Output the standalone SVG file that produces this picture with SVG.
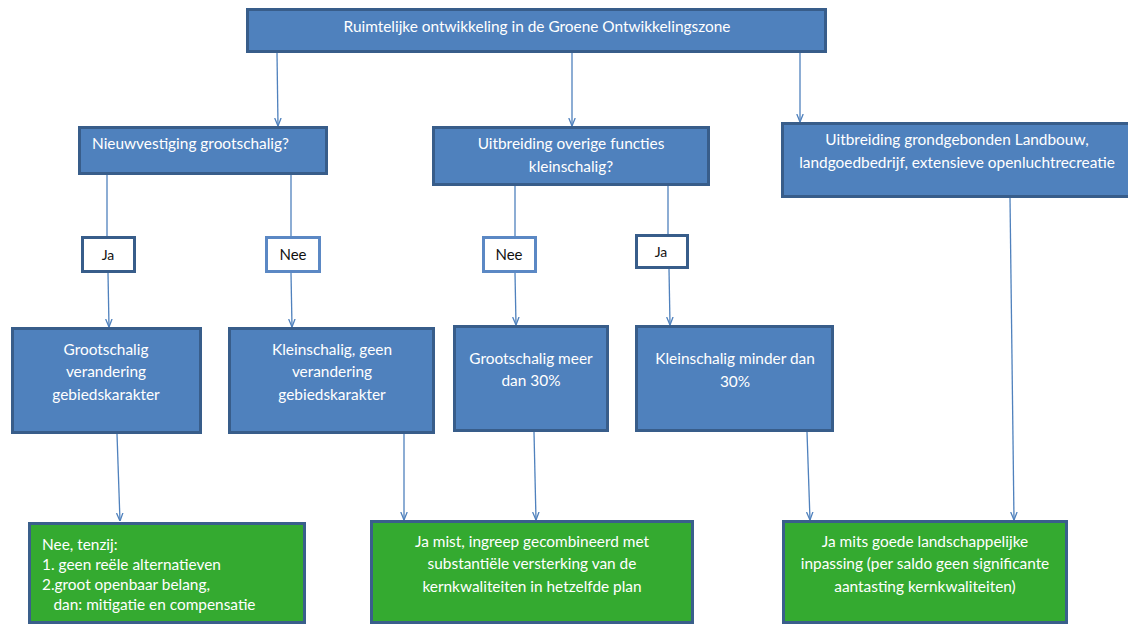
<svg xmlns="http://www.w3.org/2000/svg" width="1128" height="625" viewBox="0 0 1128 625">
<defs>
<marker id="arr" viewBox="0 0 8 8" refX="8" refY="4" markerWidth="8" markerHeight="8" markerUnits="userSpaceOnUse" orient="auto">
<path d="M0,0.8 L8,4 L0,7.2" fill="none" stroke="#4F81BD" stroke-width="1.3"/>
</marker>
</defs>
<style>
.blue{fill:#4F81BD;stroke:#385D8A;stroke-width:3}
.green{fill:#34AA30;stroke:#3A5F8B;stroke-width:3}
.lbl{fill:#FFFFFF;stroke-width:3}
.dk{stroke:#385D8A}
.lt{stroke:#5B88C4}
text{font-family:Lato,"Liberation Sans",sans-serif;font-size:15.4px;fill:#FFFFFF}
.c{text-anchor:middle}
.bk{fill:#111111;font-size:15px}
.sm{font-size:14px}
.con line{stroke:#4F81BD;stroke-width:1.3}
</style>
<rect width="1128" height="625" fill="#FFFFFF"/>
<g class="con">
<line x1="277" y1="53" x2="278" y2="126" marker-end="url(#arr)"/>
<line x1="572" y1="53" x2="572" y2="126" marker-end="url(#arr)"/>
<line x1="800" y1="53" x2="800" y2="122" marker-end="url(#arr)"/>
<line x1="107" y1="175" x2="107" y2="236"/>
<line x1="108" y1="273" x2="109" y2="327" marker-end="url(#arr)"/>
<line x1="291" y1="175" x2="291" y2="236"/>
<line x1="291" y1="273" x2="292" y2="327" marker-end="url(#arr)"/>
<line x1="515" y1="186" x2="515" y2="236"/>
<line x1="515" y1="273" x2="516" y2="325" marker-end="url(#arr)"/>
<line x1="668" y1="186" x2="668" y2="234"/>
<line x1="669" y1="269" x2="670" y2="325" marker-end="url(#arr)"/>
<line x1="1010" y1="198" x2="1014" y2="520" marker-end="url(#arr)"/>
<line x1="117" y1="434" x2="120" y2="521" marker-end="url(#arr)"/>
<line x1="404" y1="434" x2="404" y2="520" marker-end="url(#arr)"/>
<line x1="534" y1="432" x2="536" y2="520" marker-end="url(#arr)"/>
<line x1="807" y1="432" x2="810" y2="520" marker-end="url(#arr)"/>
</g>
<g id="top">
<rect class="blue" x="247.5" y="9.5" width="578" height="42"/>
<text class="c" x="537" y="32">Ruimtelijke ontwikkeling in de Groene Ontwikkelingszone</text>
</g>
<g id="nieuwvestiging">
<rect class="blue" x="79.5" y="127.5" width="247" height="46"/>
<text x="92" y="149">Nieuwvestiging grootschalig?</text>
</g>
<g id="uitbreiding-overig">
<rect class="blue" x="433.5" y="127.5" width="275" height="57"/>
<text class="c" x="571" y="149">Uitbreiding overige functies</text>
<text class="c" x="571" y="172">kleinschalig?</text>
</g>
<g id="uitbreiding-landbouw">
<rect class="blue" x="782.5" y="123.5" width="360" height="73"/>
<text class="c" x="957" y="145">Uitbreiding grondgebonden Landbouw,</text>
<text class="c" x="957" y="168">landgoedbedrijf, extensieve openluchtrecreatie</text>
</g>
<g id="ja1">
<rect class="lbl dk" x="82.5" y="237.5" width="52" height="34"/>
<text class="c bk sm" x="108" y="260">Ja</text>
</g>
<g id="nee1">
<rect class="lbl lt" x="266.5" y="237.5" width="53" height="34"/>
<text class="c bk" x="293" y="260">Nee</text>
</g>
<g id="nee2">
<rect class="lbl lt" x="483.5" y="237.5" width="52" height="34"/>
<text class="c bk" x="509" y="260">Nee</text>
</g>
<g id="ja2">
<rect class="lbl dk" x="636.5" y="235.5" width="51" height="32"/>
<text class="c bk sm" x="661" y="257">Ja</text>
</g>
<g id="grootschalig-verandering">
<rect class="blue" x="12.5" y="328.5" width="188" height="104"/>
<text class="c" x="106" y="355">Grootschalig</text>
<text class="c" x="106" y="377">verandering</text>
<text class="c" x="106" y="400">gebiedskarakter</text>
</g>
<g id="kleinschalig-geen">
<rect class="blue" x="229.5" y="328.5" width="204" height="104"/>
<text class="c" x="332" y="355">Kleinschalig, geen</text>
<text class="c" x="332" y="377">verandering</text>
<text class="c" x="332" y="400">gebiedskarakter</text>
</g>
<g id="grootschalig-meer">
<rect class="blue" x="454.5" y="326.5" width="153" height="104"/>
<text class="c" x="531" y="364">Grootschalig meer</text>
<text class="c" x="531" y="386">dan 30%</text>
</g>
<g id="kleinschalig-minder">
<rect class="blue" x="636.5" y="326.5" width="196" height="104"/>
<text class="c" x="735" y="364">Kleinschalig minder dan</text>
<text class="c" x="735" y="387">30%</text>
</g>
<g id="nee-tenzij">
<rect class="green" x="29.5" y="523.5" width="275" height="99"/>
<text x="42" y="550">Nee, tenzij:</text>
<text x="42" y="570">1. geen reële alternatieven</text>
<text x="42" y="590">2.groot openbaar belang,</text>
<text x="53.5" y="610">dan: mitigatie en compensatie</text>
</g>
<g id="ja-mist">
<rect class="green" x="371.5" y="521.5" width="321" height="101"/>
<text class="c" x="532" y="547">Ja mist, ingreep gecombineerd met</text>
<text class="c" x="532" y="569">substantiële versterking van de</text>
<text class="c" x="532" y="592">kernkwaliteiten in hetzelfde plan</text>
</g>
<g id="ja-mits">
<rect class="green" x="783.5" y="521.5" width="283" height="101"/>
<text class="c" x="925" y="547">Ja mits goede landschappelijke</text>
<text class="c" x="925" y="569">inpassing (per saldo geen significante</text>
<text class="c" x="925" y="592">aantasting kernkwaliteiten)</text>
</g>
</svg>
